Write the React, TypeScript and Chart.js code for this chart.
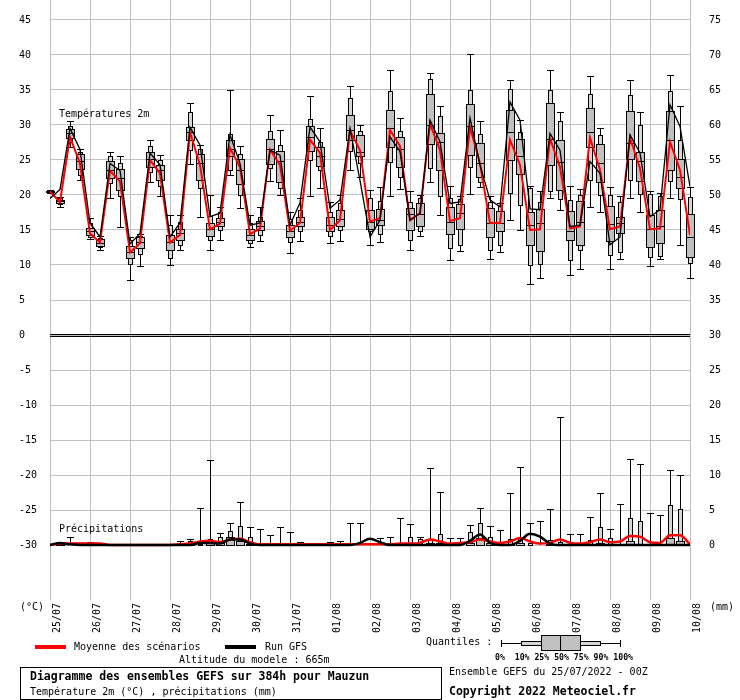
import React, { useEffect, useRef } from "react";
import { Chart, registerables } from "chart.js";

Chart.register(...registerables);

// ---------- axes ----------
const HOURS = [0, 6, 12, 18, 24, 30, 36, 42, 48, 54, 60, 66, 72, 78, 84, 90, 96, 102, 108, 114, 120, 126, 132, 138, 144, 150, 156, 162, 168, 174, 180, 186, 192, 198, 204, 210, 216, 222, 228, 234, 240, 246, 252, 258, 264, 270, 276, 282, 288, 294, 300, 306, 312, 318, 324, 330, 336, 342, 348, 354, 360, 366, 372, 378, 384];
const DAY_HOURS = [0, 24, 48, 72, 96, 120, 144, 168, 192, 216, 240, 264, 288, 312, 336, 360, 384];
const DATE_LABELS = ["25/07", "26/07", "27/07", "28/07", "29/07", "30/07", "31/07", "01/08", "02/08", "03/08", "04/08", "05/08", "06/08", "07/08", "08/08", "09/08", "10/08"];
const LEFT_TICKS = [-30, -25, -20, -15, -10, -5, 0, 5, 10, 15, 20, 25, 30, 35, 40, 45];
const RIGHT_TICKS = [0, 5, 10, 15, 20, 25, 30, 35, 40, 45, 50, 55, 60, 65, 70, 75];
const Y_MIN = -37.857;
const Y_MAX = 47.857;
const PRECIP_OFFSET = 30;

// ---------- temperature ensemble quantiles (°C), one per HOURS ----------
const T_MIN = [20.3, 18.3, 26.8, 22.2, 13.7, 12.2, 19.5, 15.4, 7.9, 9.9, 21.9, 19.8, 10.0, 12.1, 24.4, 16.9, 12.1, 13.6, 22.9, 18.1, 12.6, 13.4, 22.0, 20.0, 11.7, 13.4, 19.9, 21.0, 13.1, 13.4, 23.6, 22.5, 12.9, 13.3, 19.8, 20.9, 12.2, 14.1, 21.9, 17.1, 10.7, 12.0, 20.1, 21.2, 10.8, 11.9, 16.4, 15.0, 7.3, 8.1, 19.5, 17.9, 8.6, 9.4, 18.3, 17.6, 9.4, 10.8, 19.5, 17.5, 9.8, 10.8, 19.5, 12.9, 8.1];
const T_P10 = [20.4, 18.7, 27.6, 22.8, 14.0, 12.5, 21.7, 19.8, 10.2, 11.6, 23.3, 21.3, 11.0, 12.9, 26.4, 21.0, 13.6, 15.0, 23.6, 20.0, 13.2, 14.3, 23.8, 21.0, 13.3, 14.9, 25.0, 23.5, 14.1, 15.0, 26.3, 24.5, 14.8, 14.4, 24.7, 22.5, 13.6, 14.8, 23.8, 19.8, 12.4, 12.9, 24.0, 21.8, 12.2, 12.9, 20.3, 18.6, 10.0, 10.1, 20.5, 19.4, 10.7, 12.1, 22.1, 20.0, 11.4, 11.9, 22.1, 20.1, 11.2, 11.3, 22.0, 19.4, 10.3];
const T_P25 = [20.4, 18.8, 28.1, 23.7, 14.3, 12.7, 22.4, 20.7, 11.0, 12.4, 24.0, 22.1, 12.1, 13.6, 27.9, 22.2, 14.1, 15.5, 25.6, 21.6, 13.6, 15.0, 24.4, 21.9, 14.0, 15.5, 26.3, 24.1, 14.8, 15.5, 27.9, 25.6, 15.2, 15.7, 26.8, 24.0, 15.0, 15.5, 27.3, 23.5, 14.4, 15.2, 25.7, 22.5, 14.0, 14.8, 25.0, 23.0, 12.8, 12.0, 24.3, 20.7, 13.6, 12.9, 26.9, 21.8, 13.4, 14.6, 25.2, 22.0, 12.6, 13.1, 23.6, 21.0, 11.1];
const T_P50 = [20.5, 19.1, 28.8, 24.8, 14.8, 13.2, 23.6, 22.4, 11.9, 13.3, 25.1, 23.5, 13.3, 14.6, 29.0, 24.5, 15.1, 16.2, 26.6, 23.6, 14.3, 15.6, 26.5, 24.8, 14.9, 16.2, 28.3, 25.5, 15.7, 16.5, 29.3, 26.2, 16.2, 16.4, 29.5, 26.5, 17.3, 17.3, 30.0, 27.6, 16.1, 17.4, 29.9, 24.5, 16.0, 16.0, 29.0, 25.5, 15.7, 16.0, 28.0, 24.7, 14.9, 16.2, 29.0, 24.5, 15.8, 16.0, 27.4, 24.9, 15.2, 15.5, 27.8, 22.6, 14.0];
const T_P75 = [20.6, 19.3, 29.4, 25.8, 15.3, 13.7, 24.8, 23.7, 12.7, 14.0, 26.2, 24.3, 14.3, 15.2, 29.7, 25.9, 16.0, 16.7, 27.9, 25.1, 15.2, 16.3, 28.0, 26.3, 15.7, 16.9, 29.9, 26.9, 16.8, 17.9, 31.4, 28.6, 17.9, 18.0, 32.2, 28.3, 18.2, 18.8, 34.4, 28.8, 18.3, 18.7, 33.0, 27.4, 18.1, 17.7, 32.1, 28.0, 17.5, 18.0, 33.2, 27.9, 17.7, 19.1, 32.4, 27.3, 18.4, 16.8, 32.0, 26.2, 17.2, 17.9, 32.0, 25.2, 17.3];
const T_P90 = [20.6, 19.5, 29.8, 26.2, 16.0, 13.9, 25.5, 24.5, 13.5, 14.2, 27.0, 25.0, 15.7, 16.2, 31.8, 26.5, 17.0, 17.5, 28.7, 25.9, 16.0, 16.9, 29.1, 27.1, 16.6, 17.8, 30.8, 27.5, 17.5, 18.8, 33.8, 29.2, 19.5, 19.2, 34.8, 29.1, 19.0, 19.5, 36.5, 31.3, 19.5, 19.4, 35.0, 28.7, 19.0, 18.4, 35.1, 29.0, 21.0, 19.0, 35.0, 30.5, 19.3, 20.0, 34.4, 28.6, 20.0, 19.0, 34.3, 30.0, 20.1, 19.9, 34.8, 27.9, 19.7];
const T_MAX = [20.7, 19.7, 30.5, 26.5, 16.7, 14.2, 26.2, 25.6, 14.0, 14.4, 27.8, 25.7, 17.1, 17.1, 33.2, 27.2, 20.0, 18.3, 35.0, 27.0, 17.2, 18.3, 31.4, 29.3, 17.5, 19.5, 34.1, 29.5, 19.0, 20.0, 35.5, 30.0, 20.7, 21.2, 37.8, 31.0, 20.6, 20.0, 37.4, 32.7, 21.3, 19.9, 40.2, 30.6, 19.8, 18.8, 36.4, 30.7, 21.3, 20.5, 37.8, 31.8, 21.3, 20.9, 37.0, 29.5, 21.2, 19.8, 36.4, 31.8, 20.5, 20.3, 37.1, 32.7, 21.2];

// ensemble mean & GFS run temperature (°C), one per HOURS
const T_MEAN = [20.5, 19.0, 28.3, 24.5, 14.5, 13.2, 23.5, 21.9, 11.8, 13.1, 25.0, 23.1, 13.2, 14.3, 29.0, 24.3, 15.1, 15.9, 26.7, 24.0, 14.4, 15.2, 26.5, 24.3, 14.9, 16.0, 27.9, 26.0, 15.0, 16.4, 29.2, 26.4, 16.2, 16.7, 29.3, 27.0, 16.4, 17.4, 30.2, 26.4, 16.3, 16.7, 29.7, 24.5, 16.0, 16.0, 27.9, 24.3, 15.0, 15.1, 28.1, 24.0, 15.2, 15.5, 28.2, 23.6, 15.1, 15.5, 28.2, 23.8, 15.1, 15.2, 27.6, 23.6, 14.3];
const T_GFS = [19.5, 20.8, 29.5, 26.5, 16.0, 14.0, 24.5, 23.5, 13.0, 14.5, 26.0, 24.3, 14.0, 16.0, 29.7, 27.1, 16.9, 17.4, 28.6, 24.5, 15.7, 16.0, 26.4, 25.7, 15.7, 18.9, 29.7, 27.6, 18.1, 19.3, 29.5, 22.1, 14.0, 16.4, 28.3, 26.2, 16.4, 17.4, 30.7, 27.6, 18.8, 19.0, 31.0, 24.3, 19.3, 18.3, 33.3, 30.7, 18.0, 17.9, 28.8, 26.4, 15.5, 15.7, 24.8, 23.1, 12.9, 14.0, 28.6, 26.0, 16.9, 17.9, 32.9, 29.8, 21.2];

// ---------- precipitation ensemble quantiles (mm per 6 h), one per HOURS ----------
const P_P75 = [0, 0.2, 0, 0, 0.3, 0, 0, 0, 0, 0, 0, 0, 0, 0, 0.3, 0, 0.3, 0.3, 1.2, 0.6, 0.2, 0, 0, 0, 0, 0, 0, 0, 0, 0, 0, 0, 0, 0, 0, 0, 0, 0, 0.3, 0.3, 0, 0, 0.3, 1.0, 0.3, 0, 0.2, 0.3, 0, 0, 0.2, 0, 0, 0, 0.2, 0.3, 0.2, 0, 0.6, 0.2, 0, 0, 1.0, 0.6, 0];
const P_P90 = [0, 0.3, 0, 0, 0.4, 0, 0, 0, 0, 0, 0, 0, 0, 0.1, 0.6, 0.2, 0.9, 1.2, 2.0, 2.7, 1.1, 0, 0, 0, 0, 0, 0, 0, 0, 0, 0, 0, 0, 0, 0, 0, 1.1, 0.8, 0.8, 1.6, 0, 0, 1.9, 3.2, 1.2, 0, 0.9, 1.2, 0.3, 0, 0.7, 0.5, 0, 0, 0.7, 2.6, 1.0, 0, 3.9, 3.5, 0, 0, 5.7, 5.2, 0];
const P_MAX = [0, 0.3, 1.2, 0, 0.4, 0, 0, 0, 0, 0, 0, 0, 0, 0.6, 0.8, 5.3, 12.1, 1.7, 3.2, 6.2, 2.6, 2.3, 1.4, 2.6, 1.8, 0.5, 0.3, 0, 0.5, 0.6, 3.1, 3.1, 0, 1.0, 1.2, 3.9, 3.0, 1.2, 11.0, 7.6, 1.0, 1.0, 2.9, 5.3, 2.7, 2.1, 7.5, 11.1, 3.1, 3.4, 5.2, 18.3, 1.6, 1.6, 4.0, 7.5, 2.3, 5.8, 12.3, 11.6, 4.6, 4.3, 10.7, 10.0, 0];
const P_MEAN = [0, 0.2, 0.2, 0.2, 0.2, 0.2, 0, 0, 0, 0, 0, 0, 0, 0.1, 0.2, 0.5, 0.6, 0.4, 0.8, 0.9, 0.4, 0.1, 0.1, 0.1, 0.1, 0.1, 0.1, 0.1, 0.1, 0.1, 0.1, 0.1, 0.1, 0.1, 0.1, 0.2, 0.2, 0.3, 0.8, 0.5, 0.2, 0.3, 0.4, 0.8, 0.5, 0.3, 0.5, 1.0, 0.5, 0.2, 0.3, 0.8, 0.3, 0.2, 0.4, 0.8, 0.4, 0.5, 1.3, 1.2, 0.4, 0.3, 1.4, 1.4, 0.1];
const P_GFS = [0, 0.3, 0.1, 0, 0, 0, 0, 0, 0, 0, 0, 0, 0, 0, 0, 0.3, 0.3, 0.2, 0.8, 0.8, 0.2, 0, 0, 0, 0, 0, 0, 0, 0, 0, 0, 0.3, 0.9, 0.4, 0, 0, 0, 0, 0, 0, 0, 0, 0.6, 1.5, 0.3, 0, 0, 0.6, 1.6, 1.2, 0.2, 0, 0, 0, 0, 0, 0, 0, 0, 0, 0, 0, 0, 0, 0];

const MONO = '"DejaVu Sans Mono", monospace';
const GRID = "#c0c0c0";
const LIGHT = "#d6d6d6";
const DARK = "#c0c0c0";

function drawBoxPlot(ctx: CanvasRenderingContext2D, x: number, py: (v: number) => number, q: number[]) {
  const [mn, p10, p25, p50, p75, p90, mx] = q;
  const yMax = Math.round(py(mx));
  const yMin = Math.round(py(mn));
  ctx.strokeStyle = "#000";
  ctx.lineWidth = 1;
  ctx.beginPath();
  ctx.moveTo(x + 0.5, yMax);
  ctx.lineTo(x + 0.5, yMin);
  ctx.moveTo(x - 3, yMax + 0.5);
  ctx.lineTo(x + 4, yMax + 0.5);
  ctx.moveTo(x - 3, yMin + 0.5);
  ctx.lineTo(x + 4, yMin + 0.5);
  ctx.stroke();
  const y90 = Math.round(py(p90));
  const y10 = Math.round(py(p10));
  if (y10 - y90 >= 1) {
    ctx.fillStyle = LIGHT;
    ctx.fillRect(x - 2, y90, 5, y10 - y90);
    ctx.strokeRect(x - 2 + 0.5, y90 + 0.5, 4, y10 - y90);
  }
  const y75 = Math.round(py(p75));
  const y25 = Math.round(py(p25));
  if (y25 - y75 >= 1) {
    ctx.fillStyle = DARK;
    ctx.fillRect(x - 4, y75, 9, y25 - y75);
    ctx.strokeRect(x - 4 + 0.5, y75 + 0.5, 8, y25 - y75);
    const y50 = Math.round(py(p50));
    ctx.beginPath();
    ctx.moveTo(x - 4, y50 + 0.5);
    ctx.lineTo(x + 5, y50 + 0.5);
    ctx.stroke();
  }
}

const boxPlugin = {
  id: "ensembleBoxes",
  beforeDatasetsDraw(chart: any) {
    const ctx: CanvasRenderingContext2D = chart.ctx;
    const xs = chart.scales.x;
    const ys = chart.scales.y;
    const ys2 = chart.scales.y2;
    const area = chart.chartArea;
    ctx.save();
    // double zero line
    const y0 = Math.round(ys.getPixelForValue(0));
    ctx.fillStyle = "#000";
    ctx.fillRect(area.left, y0 - 1, area.right - area.left, 1);
    ctx.fillRect(area.left, y0 + 1, area.right - area.left, 1);
    // temperature boxes
    for (let i = 0; i < HOURS.length; i++) {
      const x = Math.round(xs.getPixelForValue(HOURS[i]));
      drawBoxPlot(ctx, x, (v) => ys.getPixelForValue(v), [T_MIN[i], T_P10[i], T_P25[i], T_P50[i], T_P75[i], T_P90[i], T_MAX[i]]);
    }
    // precipitation boxes (min, p10, p25, p50 = 0)
    for (let i = 0; i < HOURS.length; i++) {
      if (P_MAX[i] <= 0) continue;
      const x = Math.round(xs.getPixelForValue(HOURS[i]));
      const py = (v: number) => ys2.getPixelForValue(v);
      const yb = Math.round(py(0));
      const yMax = Math.round(py(P_MAX[i]));
      ctx.strokeStyle = "#000";
      ctx.lineWidth = 1;
      ctx.beginPath();
      ctx.moveTo(x + 0.5, yMax);
      ctx.lineTo(x + 0.5, yb);
      ctx.moveTo(x - 3, yMax + 0.5);
      ctx.lineTo(x + 4, yMax + 0.5);
      ctx.stroke();
      const y90 = Math.round(py(P_P90[i]));
      if (yb - y90 >= 1) {
        ctx.fillStyle = LIGHT;
        ctx.fillRect(x - 2, y90, 5, yb - y90);
        ctx.strokeRect(x - 2 + 0.5, y90 + 0.5, 4, yb - y90);
      }
      const y75 = Math.round(py(P_P75[i]));
      if (yb - y75 >= 1) {
        ctx.fillStyle = DARK;
        ctx.fillRect(x - 4, y75, 9, yb - y75);
        ctx.strokeRect(x - 4 + 0.5, y75 + 0.5, 8, yb - y75);
      }
    }
    ctx.restore();
  },
};

function txt(ctx: CanvasRenderingContext2D, s: string, x: number, y: number, font: string) {
  ctx.font = font;
  ctx.fillText(s, x, y);
}

const textPlugin = {
  id: "meteoTexts",
  afterDraw(chart: any) {
    const ctx: CanvasRenderingContext2D = chart.ctx;
    const f10 = `10px ${MONO}`;
    const fb = `bold 11.5px ${MONO}`;
    ctx.save();
    ctx.fillStyle = "#000";
    ctx.textBaseline = "middle";
    ctx.textAlign = "left";
    txt(ctx, "Températures 2m", 59, 114, f10);
    txt(ctx, "Précipitations", 59, 529, f10);
    txt(ctx, "(°C)", 20, 607, f10);
    txt(ctx, "(mm)", 710, 607, f10);
    // legend
    ctx.fillStyle = "#ff0000";
    ctx.fillRect(35, 645, 31, 4);
    ctx.fillStyle = "#000";
    txt(ctx, "Moyenne des scénarios", 74, 647, f10);
    ctx.fillRect(225, 645, 31, 4);
    txt(ctx, "Run GFS", 265, 647, f10);
    txt(ctx, "Altitude du modele : 665m", 179, 660, f10);
    // title box
    ctx.strokeStyle = "#000";
    ctx.lineWidth = 1;
    ctx.strokeRect(20.5, 667.5, 421, 32);
    txt(ctx, "Diagramme des ensembles GEFS sur 384h pour Mauzun", 30, 677, fb);
    txt(ctx, "Température 2m (°C) , précipitations (mm)", 30, 692, f10);
    // quantile legend
    txt(ctx, "Quantiles :", 426, 642, f10);
    ctx.beginPath();
    ctx.moveTo(501, 643.5);
    ctx.lineTo(621, 643.5);
    ctx.moveTo(501.5, 640);
    ctx.lineTo(501.5, 647);
    ctx.moveTo(620.5, 640);
    ctx.lineTo(620.5, 647);
    ctx.stroke();
    ctx.fillStyle = LIGHT;
    ctx.fillRect(521, 641, 80, 5);
    ctx.strokeRect(521.5, 641.5, 79, 4);
    ctx.fillStyle = DARK;
    ctx.fillRect(541, 635, 40, 16);
    ctx.strokeRect(541.5, 635.5, 39, 15);
    ctx.beginPath();
    ctx.moveTo(560.5, 635);
    ctx.lineTo(560.5, 651);
    ctx.stroke();
    ctx.fillStyle = "#000";
    txt(ctx, "0%  10% 25% 50% 75% 90% 100%", 495, 658, `bold 8.2px ${MONO}`);
    txt(ctx, "Ensemble GEFS du 25/07/2022 - 00Z", 449, 672, f10);
    txt(ctx, "Copyright 2022 Meteociel.fr", 449, 692, fb);
    ctx.restore();
  },
};

export default function App() {
  const ref = useRef<HTMLCanvasElement | null>(null);
  useEffect(() => {
    if (!ref.current) return;
    const pts = (vals: number[]) => HOURS.map((h, i) => ({ x: h, y: vals[i] }));
    const font = { family: MONO, size: 10 };
    const chart = new Chart(ref.current, {
      type: "line",
      data: {
        datasets: [
          { label: "Run GFS", data: pts(T_GFS), borderColor: "#000", borderWidth: 1.3, pointRadius: 0, yAxisID: "y", tension: 0 },
          { label: "Moyenne des scénarios", data: pts(T_MEAN), borderColor: "#ff0000", borderWidth: 2, pointRadius: 0, yAxisID: "y", tension: 0 },
          { label: "Run GFS précip", data: pts(P_GFS), borderColor: "#000", borderWidth: 2.5, pointRadius: 0, yAxisID: "y2", cubicInterpolationMode: "monotone" },
          { label: "Moyenne précip", data: pts(P_MEAN), borderColor: "#ff0000", borderWidth: 2.5, pointRadius: 0, yAxisID: "y2", cubicInterpolationMode: "monotone" },
        ],
      },
      options: {
        responsive: false,
        animation: false,
        devicePixelRatio: 1,
        layout: { padding: { left: 19, right: 0, top: 0, bottom: 0 } },
        plugins: { legend: { display: false }, tooltip: { enabled: false } },
        scales: {
          x: {
            type: "linear",
            position: "bottom",
            min: 0,
            max: 384,
            afterBuildTicks: (s: any) => {
              s.ticks = DAY_HOURS.map((v) => ({ value: v }));
            },
            afterFit: (s: any) => {
              s.height = 100;
              s.paddingLeft = 0;
              s.paddingRight = 0;
            },
            grid: { color: GRID, lineWidth: 1, drawTicks: false },
            border: { display: false },
            ticks: {
              autoSkip: false,
              minRotation: 90,
              maxRotation: 90,
              padding: 3,
              labelOffset: 7,
              color: "#000",
              font,
              callback: (_v: any, i: number) => DATE_LABELS[i],
            },
          },
          y: {
            type: "linear",
            position: "left",
            min: Y_MIN,
            max: Y_MAX,
            afterBuildTicks: (s: any) => {
              s.ticks = LEFT_TICKS.map((v) => ({ value: v }));
            },
            afterFit: (s: any) => {
              s.width = 31;
              s.paddingTop = 0;
              s.paddingBottom = 0;
            },
            grid: { color: GRID, lineWidth: 1, drawTicks: false },
            border: { display: false },
            ticks: { crossAlign: "far", padding: 0, color: "#000", font, callback: (v: any) => String(v) },
          },
          y2: {
            type: "linear",
            position: "right",
            min: Y_MIN + PRECIP_OFFSET,
            max: Y_MAX + PRECIP_OFFSET,
            afterBuildTicks: (s: any) => {
              s.ticks = RIGHT_TICKS.map((v) => ({ value: v }));
            },
            afterFit: (s: any) => {
              s.width = 50;
              s.paddingTop = 0;
              s.paddingBottom = 0;
            },
            grid: { display: false, drawTicks: false },
            border: { display: false },
            ticks: { padding: 19, color: "#000", font, callback: (v: any) => String(v) },
          },
        },
      } as any,
      plugins: [boxPlugin, textPlugin],
    });
    return () => chart.destroy();
  }, []);
  return (
    <div style={{ position: "absolute", left: 0, top: 0, width: 740, height: 700, background: "#fff" }}>
      <canvas ref={ref} width={740} height={700} style={{ display: "block" }} />
    </div>
  );
}
